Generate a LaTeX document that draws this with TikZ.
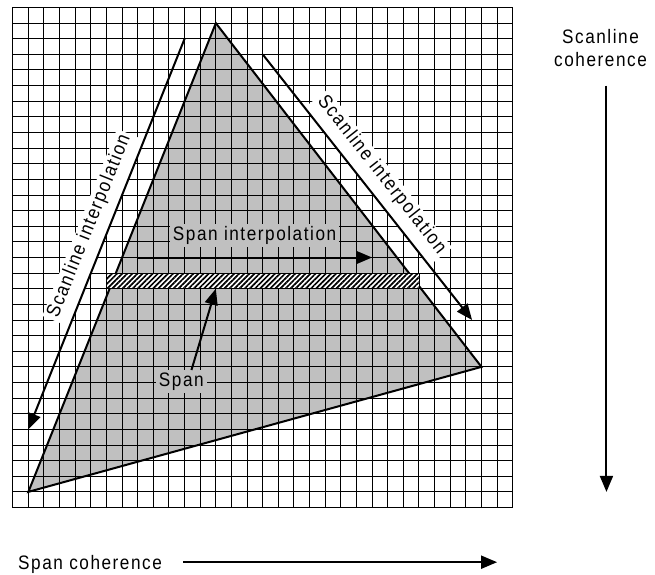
\documentclass[tikz,border=0pt]{standalone}
\usepackage{fontspec}
\setmainfont{Liberation Sans}[LetterSpace=8,FakeStretch=0.88]
\usetikzlibrary{arrows.meta,patterns.meta}
\definecolor{trigray}{RGB}{192,192,192}
\begin{document}
\begin{tikzpicture}[x=15.625pt,y=15.625pt,
  font=\fontsize{19.5}{23.4}\selectfont,
  gridline/.style={line width=1pt,black},
  edge/.style={line width=2pt,black,line join=miter},
  arr/.style={line width=2pt,-{Triangle[length=16pt,width=13pt]}},
  sideLabel/.style={fill=white,anchor=south,text height=14pt,text depth=12pt,inner ysep=1.5pt,inner xsep=3pt},
  greyLabel/.style={fill=trigray,inner xsep=3pt,inner ysep=2.5pt}]
\useasboundingbox (-0.813,-4.256) rectangle (41.107,32.48);
\coordinate (A) at (13,31);
\coordinate (B) at (1,1);
\coordinate (C) at (30,9);
\fill[trigray] (A)--(B)--(C)--cycle;
\draw[gridline] (0,0) grid[step=1] (32,32);
\draw[edge] (A)--(B)--(C)--cycle;
% span band
\fill[white] (6,14) rectangle (26,15);
\fill[pattern={Lines[angle=45,distance=3.6pt,line width=1.7pt]}] (6,14) rectangle (26,15);
\draw[line width=0.8pt] (6,14) rectangle (26,15);
% labels
\node[greyLabel] (spanInterp) at (15.48,17.42) {Span interpolation};
\node[greyLabel] (spanLbl) at (10.79,8.08) {Span};
\node[sideLabel,rotate=68.2] (leftLbl) at (6.02,17.55) {Scanline interpolation};
\node[sideLabel,rotate=-51.75] (rightLbl) at (22.67,20.54) {Scanline interpolation};
\node[align=center] (scanCoh) at (37.62,29.41) {Scanline\\coherence};
\node[anchor=base] (spanCoh) at (4.95,-3.94) {Span coherence};
% arrows
\coordinate (LA1) at (11,30);
\coordinate (LA2) at (1,5);
\draw[arr] (LA1)--(LA2);
\coordinate (RA1) at (16,29);
\coordinate (RA2) at (29.4,12);
\draw[arr] (RA1)--(RA2);
\coordinate (SI1) at (8,16);
\coordinate (SI2) at (23,16);
\draw[arr] (SI1)--(SI2);
\coordinate (spanTail) at (11.44,8.8);
\coordinate (spanTip) at (13,14);
\draw[arr] (spanTail)--(spanTip);
\coordinate (SC1) at (38,27);
\coordinate (SC2) at (38,1);
\draw[arr] (SC1)--(SC2);
\coordinate (HC1) at (10.9,-3.5);
\coordinate (HC2) at (31,-3.5);
\draw[arr] (HC1)--(HC2);
\end{tikzpicture}
\end{document}
